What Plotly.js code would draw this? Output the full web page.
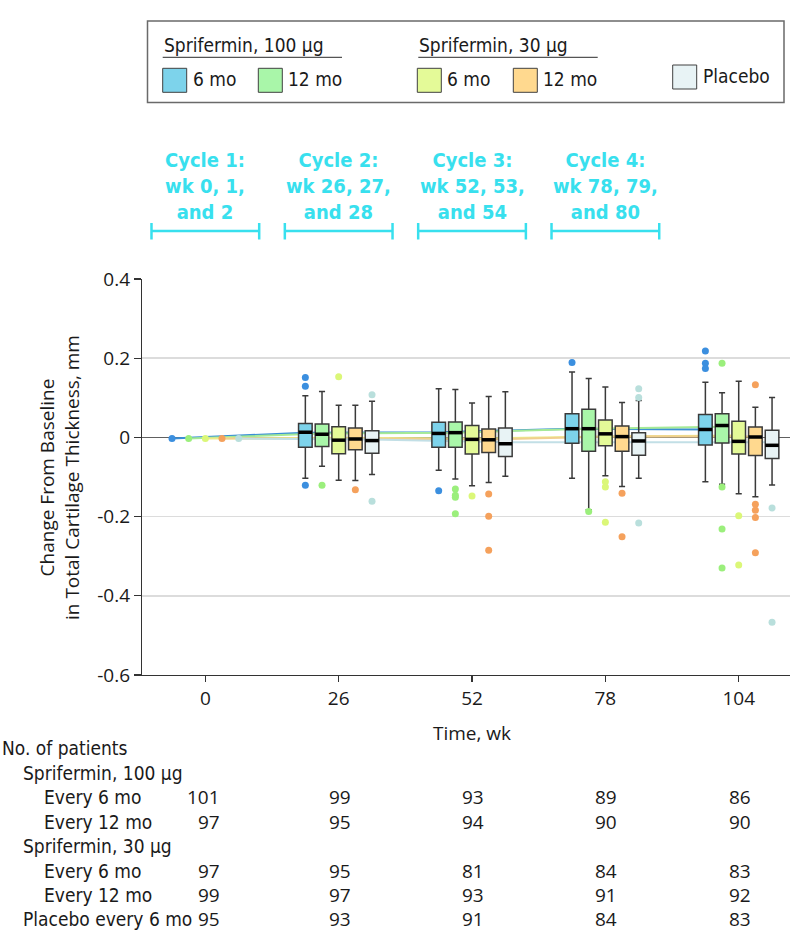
<!DOCTYPE html>
<html>
<head>
<meta charset="utf-8">
<script src="https://cdn.plot.ly/plotly-3.0.1.min.js"></script>
<style>
  html, body { margin: 0; padding: 0; background: #fff; }
  #chart { width: 794px; height: 948px; }
</style>
</head>
<body>
<div id="chart"></div>
<script>
// ---------------- DATA ----------------
const weeks = [0, 26, 52, 78, 104];
const boxWeeks = [26, 52, 78, 104];
const weekLabels = ["0", "26", "52", "78", "104"];

const groupNames = [
  "Sprifermin 100 µg, every 6 mo",
  "Sprifermin 100 µg, every 12 mo",
  "Sprifermin 30 µg, every 6 mo",
  "Sprifermin 30 µg, every 12 mo",
  "Placebo every 6 mo"
];

// box statistics per group (rows) at weeks 26, 52, 78, 104 (columns)
const upperFence = [
  [0.105, 0.123, 0.165, 0.139],
  [0.116, 0.121, 0.149, 0.113],
  [0.081, 0.087, 0.127, 0.142],
  [0.081, 0.103, 0.088, 0.076],
  [0.091, 0.115, 0.093, 0.101]
];
const q3 = [
  [0.035, 0.038, 0.060, 0.058],
  [0.034, 0.039, 0.071, 0.060],
  [0.027, 0.030, 0.044, 0.041],
  [0.024, 0.021, 0.029, 0.026],
  [0.017, 0.024, 0.012, 0.018]
];
const median = [
  [0.013, 0.010, 0.022, 0.020],
  [0.008, 0.012, 0.022, 0.030],
  [-0.007, -0.005, 0.009, -0.010],
  [-0.004, -0.006, 0.002, 0.001],
  [-0.008, -0.016, -0.009, -0.020]
];
const q1 = [
  [-0.025, -0.025, -0.015, -0.019],
  [-0.023, -0.025, -0.035, -0.014],
  [-0.041, -0.042, -0.021, -0.042],
  [-0.031, -0.038, -0.035, -0.046],
  [-0.040, -0.048, -0.045, -0.053]
];
const lowerFence = [
  [-0.103, -0.083, -0.103, -0.112],
  [-0.073, -0.105, -0.183, -0.118],
  [-0.108, -0.122, -0.097, -0.142],
  [-0.109, -0.114, -0.124, -0.150],
  [-0.094, -0.098, -0.103, -0.120]
];

// mean change per group at weeks 0, 26, 52, 78, 104 (trend lines)
const meanChange = [
  [-0.003, 0.012, 0.013, 0.022, 0.020],
  [-0.003, 0.010, 0.012, 0.022, 0.027],
  [-0.003, -0.001, -0.003, 0.002, 0.005],
  [-0.003, -0.003, -0.005, 0.003, 0.002],
  [-0.003, -0.005, -0.012, -0.012, -0.012]
];

// outliers per group: weeks and values
const outlierWeeks = [
  [26, 26, 26, 52, 78, 104, 104, 104],
  [26, 52, 52, 52, 52, 78, 104, 104, 104, 104],
  [26, 52, 78, 78, 78, 104, 104],
  [26, 52, 52, 52, 78, 78, 104, 104, 104, 104, 104],
  [26, 26, 78, 78, 78, 104, 104]
];
const outlierValues = [
  [0.151, 0.129, -0.121, -0.135, 0.189, 0.218, 0.187, 0.174],
  [-0.121, -0.130, -0.146, -0.151, -0.193, -0.187, 0.187, -0.125, -0.231, -0.330],
  [0.153, -0.148, -0.112, -0.125, -0.214, -0.198, -0.322],
  [-0.132, -0.143, -0.199, -0.285, -0.141, -0.251, 0.133, -0.169, -0.184, -0.202, -0.291],
  [0.108, -0.161, 0.123, 0.101, -0.216, -0.178, -0.467]
];

// number of patients per group at weeks 0, 26, 52, 78, 104
const nPatients = [
  [101, 99, 93, 89, 86],
  [97, 95, 94, 90, 90],
  [97, 95, 81, 84, 83],
  [99, 97, 93, 91, 92],
  [95, 93, 91, 84, 83]
];

const cycleWeeks = [0, 26, 52, 78];
const cycleLabels = [
  "Cycle 1:<br>wk 0, 1,<br>and 2",
  "Cycle 2:<br>wk 26, 27,<br>and 28",
  "Cycle 3:<br>wk 52, 53,<br>and 54",
  "Cycle 4:<br>wk 78, 79,<br>and 80"
];

const yTickVals = [0.4, 0.2, 0, -0.2, -0.4, -0.6];
const yTickText = ["0.4", "0.2", "0", "-0.2", "-0.4", "-0.6"];

// ---------------- STYLE ----------------
const boxFill   = ["#7dd3eb", "#a9f6a9", "#e4fa98", "#ffd98f", "#e8f3f5"];
const dotColor  = ["#3b8fdf", "#9bef7c", "#dbf778", "#f5a15c", "#b9dfdc"];
const lineColor = ["#3a8fd6", "#a5ea97", "#ebeb8a", "#f0cf8e", "#c2dfe6"];
const cyan = "#38e0ee";
const condFont = '"DejaVu Sans Condensed", "Liberation Sans Narrow", "Liberation Sans", sans-serif';
const numFont = '"Open Sans", "Noto Sans", sans-serif';

const ML = 142, MR = 4, MT = 279, MB = 273, W = 794, H = 948;
const PW = W - ML - MR, PH = H - MT - MB;
const px = v => (v - ML) / PW;           // pixel x -> paper
const py = v => (H - MB - v) / PH;       // pixel y -> paper
const xRange = [-12.35, 114.0];
const yRange = [-0.6, 0.4];
const slot = 3.25;       // weeks between neighbouring boxes
const boxW = 2.65;       // box width in weeks
const offset = i => (i - 2) * slot;

// ---------------- TRACES ----------------
const traces = [];

// trend lines through group means (base subplot, drawn below boxes)
for (let g = 0; g < 5; g++) {
  traces.push({
    type: "scatter", mode: "lines",
    x: weeks.map(w => w + offset(g)), y: meanChange[g],
    line: { color: lineColor[g], width: 2 },
    hoverinfo: "skip", showlegend: false
  });
}
// baseline markers at week 0
for (let g = 0; g < 5; g++) {
  traces.push({
    type: "scatter", mode: "markers",
    x: [weeks[0] + offset(g)], y: [meanChange[g][0]],
    marker: { color: dotColor[g], size: 7 },
    hoverinfo: "skip", showlegend: false
  });
}
// boxes (overlay subplot, above the trend lines)
for (let g = 0; g < 5; g++) {
  traces.push({
    type: "box", name: groupNames[g],
    x: boxWeeks.map(w => w + offset(g)),
    q1: q1[g], median: median[g], q3: q3[g],
    lowerfence: lowerFence[g], upperfence: upperFence[g],
    width: boxW, whiskerwidth: 0.45,
    fillcolor: boxFill[g],
    line: { color: "#3a3a3a", width: 1.5 },
    boxpoints: false, hoverinfo: "skip", showlegend: false,
    xaxis: "x2", yaxis: "y2"
  });
}
// thick median bars
for (let g = 0; g < 5; g++) {
  const xs = [], ys = [];
  boxWeeks.forEach((w, k) => {
    const c = w + offset(g);
    xs.push(c - boxW / 2, c + boxW / 2, null);
    ys.push(median[g][k], median[g][k], null);
  });
  traces.push({
    type: "scatter", mode: "lines", x: xs, y: ys,
    line: { color: "#000", width: 3.5 },
    hoverinfo: "skip", showlegend: false, xaxis: "x2", yaxis: "y2"
  });
}
// outliers
for (let g = 0; g < 5; g++) {
  traces.push({
    type: "scatter", mode: "markers",
    x: outlierWeeks[g].map(w => w + offset(g)), y: outlierValues[g],
    marker: { color: dotColor[g], size: 7 },
    hoverinfo: "skip", showlegend: false, xaxis: "x2", yaxis: "y2"
  });
}

// ---------------- SHAPES & ANNOTATIONS ----------------
const shapes = [];
const ann = [];

// legend box
shapes.push({ type: "rect", xref: "paper", yref: "paper",
  x0: px(147.5), x1: px(784), y0: py(21), y1: py(102.5),
  line: { color: "#6a6a6a", width: 1.5 }, fillcolor: "rgba(0,0,0,0)" });
// group headings + underlines
const headings = [["Sprifermin, 100 µg", 162.7, 342], ["Sprifermin, 30 µg", 418.3, 597.7]];
headings.forEach(h => {
  ann.push({ xref: "paper", yref: "paper", x: px(h[1] - 1), y: py(45), xanchor: "left", yanchor: "middle",
    text: h[0], showarrow: false, font: { family: condFont, size: 19, color: "#1a1a1a" } });
  shapes.push({ type: "line", xref: "paper", yref: "paper", x0: px(h[1]), x1: px(h[2]),
    y0: py(57.3), y1: py(57.3), line: { color: "#555", width: 1.3 } });
});
// swatches
const legendItems = [
  { g: 0, x: 162.7, y: 68.3, label: "6 mo" },
  { g: 1, x: 258.3, y: 68.3, label: "12 mo" },
  { g: 2, x: 417.3, y: 68.3, label: "6 mo" },
  { g: 3, x: 513.3, y: 68.3, label: "12 mo" },
  { g: 4, x: 672.7, y: 65.0, label: "Placebo" }
];
legendItems.forEach(it => {
  shapes.push({ type: "rect", xref: "paper", yref: "paper",
    x0: px(it.x), x1: px(it.x + 24), y0: py(it.y), y1: py(it.y + 24),
    line: { color: "#404040", width: 1 }, fillcolor: boxFill[it.g] });
  ann.push({ xref: "paper", yref: "paper", x: px(it.x + 28), y: py(it.y + 11), xanchor: "left", yanchor: "middle",
    text: it.label, showarrow: false, font: { family: condFont, size: 19, color: "#1a1a1a" } });
});

// cycle labels and brackets
cycleWeeks.forEach((w, i) => {
  ann.push({ xref: "x", yref: "paper", x: w, y: py(186), xanchor: "center", yanchor: "middle",
    text: "<b>" + cycleLabels[i].split("<br>").join("</b><br><b>") + "</b>", showarrow: false,
    font: { family: condFont, size: 20, color: cyan }, align: "center" });
  shapes.push({ type: "line", xref: "x", yref: "paper", x0: w - 10.5, x1: w + 10.5,
    y0: py(231), y1: py(231), line: { color: cyan, width: 2.5 } });
  [w - 10.5, w + 10.5].forEach(e => shapes.push({ type: "line", xref: "x", yref: "paper",
    x0: e, x1: e, y0: py(223), y1: py(239.5), line: { color: cyan, width: 2.5 } }));
});

// y-axis title
ann.push({ xref: "paper", yref: "paper", x: px(59), y: py(477), xanchor: "center", yanchor: "middle",
  textangle: -90, showarrow: false, align: "center",
  text: "Change From Baseline<br>in Total Cartilage Thickness, mm",
  font: { family: numFont, size: 19, color: "#1a1a1a" } });
// x-axis title
ann.push({ xref: "paper", yref: "paper", x: px(472), y: py(733), xanchor: "center", yanchor: "middle",
  showarrow: false, text: "Time, wk", font: { family: numFont, size: 19, color: "#1a1a1a" } });

// number-at-risk table
const tableRows = [
  { text: "No. of patients", x: 1, y: 748.3, g: -1 },
  { text: "Sprifermin, 100 µg", x: 21.7, y: 773.3, g: -1 },
  { text: "Every 6 mo", x: 42.7, y: 797.3, g: 0 },
  { text: "Every 12 mo", x: 42.7, y: 821.7, g: 1 },
  { text: "Sprifermin, 30 µg", x: 21.7, y: 846, g: -1 },
  { text: "Every 6 mo", x: 42.7, y: 870.7, g: 2 },
  { text: "Every 12 mo", x: 42.7, y: 895, g: 3 },
  { text: "Placebo every 6 mo", x: 21.7, y: 919.3, g: 4 }
];
tableRows.forEach(r => {
  ann.push({ xref: "paper", yref: "paper", x: px(r.x - 1), y: py(r.y), xanchor: "left", yanchor: "middle",
    text: r.text, showarrow: false, font: { family: condFont, size: 19, color: "#1a1a1a" } });
  if (r.g >= 0) {
    weeks.forEach((w, k) => {
      ann.push({ xref: "x", yref: "paper", x: w, y: py(r.y), showarrow: false,
        xanchor: k === 0 ? "right" : "center", xshift: k === 0 ? 17 : 1, yanchor: "middle",
        text: String(nPatients[r.g][k]), font: { family: numFont, size: 19, color: "#1a1a1a" } });
    });
  }
});

// ---------------- LAYOUT ----------------
const layout = {
  width: W, height: H,
  margin: { l: ML, r: MR, t: MT, b: MB, pad: 0 },
  paper_bgcolor: "#fff", plot_bgcolor: "#fff",
  showlegend: false,
  xaxis: {
    range: xRange, tickmode: "array", tickvals: weeks, ticktext: weekLabels,
    showgrid: false, zeroline: false, showline: true, linecolor: "#333", linewidth: 1.2,
    ticks: "outside", ticklen: 6, tickcolor: "#333", tickwidth: 1.2,
    tickfont: { family: numFont, size: 19, color: "#1a1a1a" }, fixedrange: true
  },
  yaxis: {
    range: yRange, tickmode: "array", tickvals: yTickVals, ticktext: yTickText,
    showgrid: true, gridcolor: "#dcdcdc", gridwidth: 1.6,
    zeroline: true, zerolinecolor: "#606060", zerolinewidth: 1.2,
    showline: true, linecolor: "#333", linewidth: 1.2,
    ticks: "outside", ticklen: 7, tickcolor: "#333", tickwidth: 1.2,
    tickfont: { family: numFont, size: 19, color: "#1a1a1a" }, fixedrange: true
  },
  xaxis2: { overlaying: "x", range: xRange, visible: false, fixedrange: true },
  yaxis2: { overlaying: "y", range: yRange, visible: false, fixedrange: true },
  shapes: shapes,
  annotations: ann
};

Plotly.newPlot("chart", traces, layout, { staticPlot: true, displayModeBar: false });
</script>
</body>
</html>
